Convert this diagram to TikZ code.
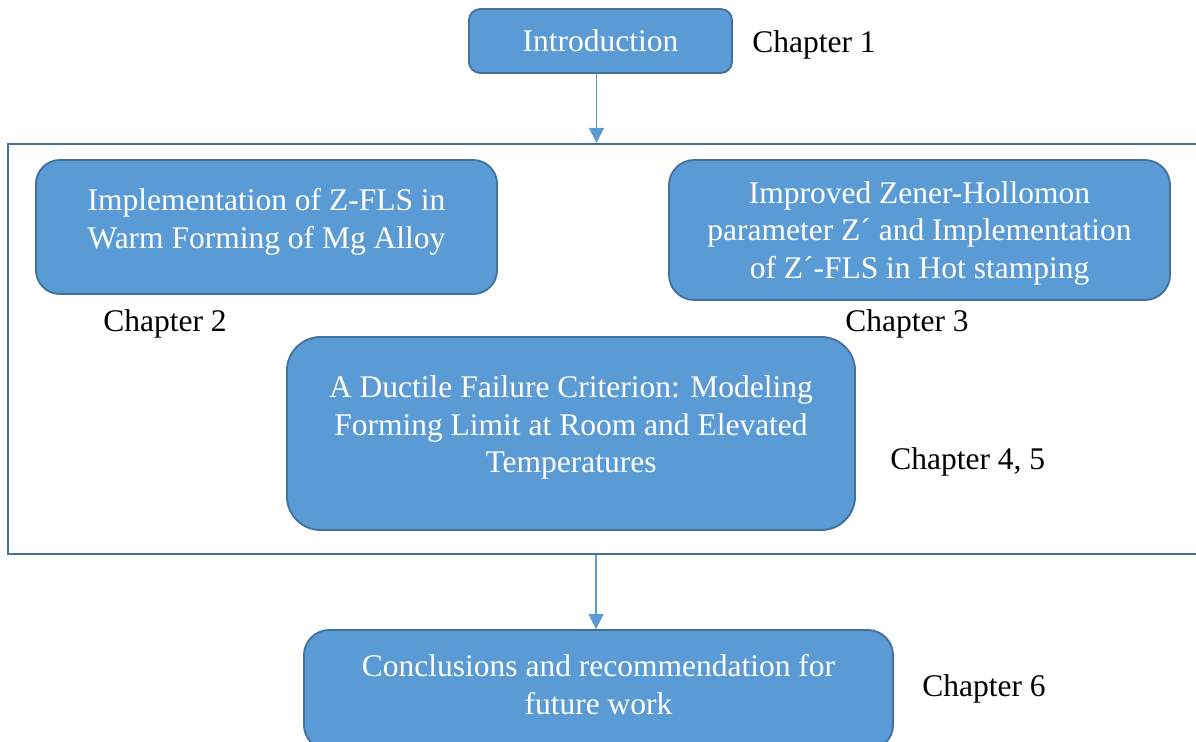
\documentclass[tikz,border=0pt]{standalone}
\usepackage{fontspec}
\setmainfont{Liberation Serif}
\usepackage{tikz}
\usetikzlibrary{arrows.meta, positioning, calc}
\usepackage{xcolor}
\definecolor{boxblue}{HTML}{5B9BD5}
\definecolor{edgeblue}{HTML}{41719C}

\begin{document}
\begin{tikzpicture}[
  x=0.025cm, y=-0.025cm,
  box/.style={
    draw=edgeblue, fill=boxblue, text=white, line width=1.3pt,
    align=center, inner sep=0pt, font=\fontsize{22.4}{26.8}\selectfont
  },
  arrow/.style={-{Triangle[length=0.375cm, width=0.375cm]}, boxblue, line width=0.9pt},
  chap/.style={anchor=west, inner sep=0pt, font=\fontsize{22.4}{26.8}\selectfont}
]
  \useasboundingbox (0,0) rectangle (1196,742);
  \clip (0,0) rectangle (1196,742);

  % Frame round the middle chapters -- runs off the right side
  \node[draw=edgeblue, line width=1.6pt, minimum width=30.3cm, minimum height=10.25cm,
        inner sep=0pt] (frame) at (614.5,349) {};

  % Boxes
  \node[box, rounded corners=8pt, minimum width=6.575cm, minimum height=1.6cm]
    (intro) at (600.5,41) {Introduction};
  \node[box, rounded corners=17pt, minimum width=11.525cm, minimum height=3.35cm,
        text depth=12pt]
    (warm) at (266.5,227) {Implementation of Z-FLS in\\Warm Forming of Mg Alloy};
  \node[box, rounded corners=18pt, minimum width=12.525cm, minimum height=3.5cm,
        text depth=-4pt]
    (hot) at (919.5,230) {Improved Zener-Hollomon\\parameter Z´ and Implementation\\of Z´-FLS in Hot stamping};
  \node[box, rounded corners=24pt, minimum width=14.2cm, minimum height=4.825cm,
        text depth=13pt]
    (ductile) at (571,433.5) {A Ductile Failure Criterion: Modeling\\Forming Limit at Room and Elevated\\Temperatures};
  \node[box, rounded corners=18pt, minimum width=14.725cm, minimum height=3.0cm,
        text depth=8pt]
    (concl) at (598.5,690) {Conclusions and recommendation for\\future work};

  % Chapter labels
  \node[chap] (ch1) at (752,45) {Chapter 1};
  \node[chap] (ch2) at (103,324) {Chapter 2};
  \node[chap] (ch3) at (845,324) {Chapter 3};
  \node[chap] (ch45) at (890,462) {Chapter 4, 5};
  \node[chap] (ch6) at (922,689) {Chapter 6};

  % Arrows
  \draw[arrow] ([xshift=-0.1cm]intro.south) -- ([xshift=-0.1cm]intro.south |- frame.north);
  \draw[arrow] ([xshift=-0.06cm]concl.north |- frame.south) -- ([xshift=-0.06cm]concl.north);
\end{tikzpicture}
\end{document}
